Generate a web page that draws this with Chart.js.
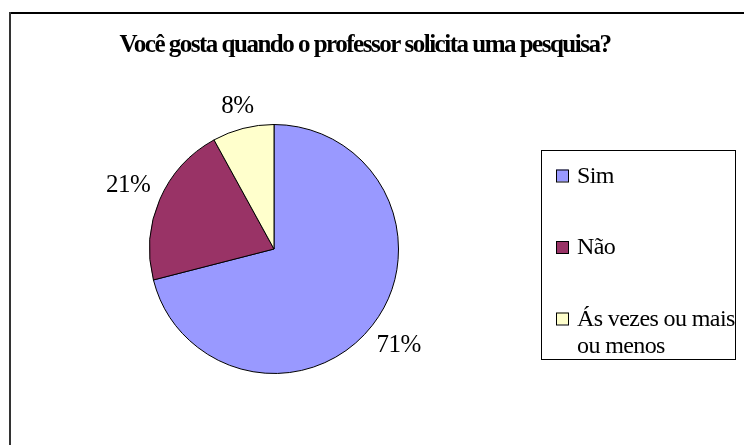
<!DOCTYPE html>
<html><head><meta charset="utf-8">
<script src="https://cdn.jsdelivr.net/npm/chart.js@4"></script>
<style>html,body{margin:0;padding:0;background:#fff}canvas{display:block}</style>
</head><body>
<canvas id="c" width="744" height="445"></canvas>
<script>
const titleText = 'Você gosta quando o professor solicita uma pesquisa?';
const categories = ['Sim', 'Não', 'Ás vezes ou mais ou menos'];
const values = [71, 21, 8];
const colors = ['#9999FF', '#993366', '#FFFFCC'];

const SERIF = '"Liberation Serif", "Times New Roman", serif';

function wrap(ctx, text, maxW) {
  const words = text.split(' ');
  const lines = [];
  let cur = '';
  words.forEach(w => {
    const t = cur ? cur + ' ' + w : w;
    if (ctx.measureText(t).width > maxW && cur) { lines.push(cur); cur = w; }
    else cur = t;
  });
  if (cur) lines.push(cur);
  return lines;
}
function spacing(ctx, v) { if ('letterSpacing' in ctx) ctx.letterSpacing = v; }

const decor = {
  id: 'decor',
  beforeDraw(chart) {
    const ctx = chart.ctx;
    ctx.save();
    ctx.fillStyle = '#fff';
    ctx.fillRect(0, 0, chart.width, chart.height);
    ctx.fillStyle = '#000';
    ctx.fillRect(9, 12, chart.width - 9, 2);
    ctx.fillStyle = '#333';
    ctx.fillRect(9, 12, 2, chart.height - 12);
    ctx.restore();
  },
  afterDraw(chart) {
    const ctx = chart.ctx;
    ctx.save();
    // title
    ctx.font = 'bold 25px ' + SERIF;
    spacing(ctx, '-1.5px');
    ctx.fillStyle = '#000';
    ctx.textAlign = 'center';
    ctx.textBaseline = 'alphabetic';
    ctx.fillText(titleText, 365, 52);

    // percentage labels
    const meta = chart.getDatasetMeta(0);
    const total = values.reduce((a, b) => a + b, 0);
    ctx.font = '25px ' + SERIF;
    spacing(ctx, '-0.5px');
    ctx.textBaseline = 'middle';
    meta.data.forEach((arc, i) => {
      const p = arc.getProps(['x', 'y', 'startAngle', 'endAngle', 'outerRadius'], true);
      const mid = (p.startAngle + p.endAngle) / 2;
      const txt = Math.round(values[i] / total * 100) + '%';
      const w = ctx.measureText(txt).width;
      const h = 16;
      const c = Math.cos(mid), s = Math.sin(mid);
      const d = p.outerRadius + 11 + Math.abs(c) * w / 2 + Math.abs(s) * h / 2;
      ctx.fillText(txt, p.x + c * d, p.y + s * d);
    });

    // legend
    spacing(ctx, '0px');
    ctx.strokeStyle = '#000';
    ctx.lineWidth = 1;
    ctx.strokeRect(541.5, 150.5, 194, 209);
    ctx.font = '24px ' + SERIF;
    spacing(ctx, '-0.6px');
    ctx.textAlign = 'left';
    ctx.textBaseline = 'alphabetic';
    const firstY = 175.5, step = 71.5;
    categories.forEach((lab, i) => {
      const cy = firstY + i * step;
      ctx.fillStyle = colors[i];
      ctx.fillRect(556, cy - 6, 12, 12);
      ctx.strokeStyle = '#000';
      ctx.strokeRect(556.5, cy - 5.5, 12, 12);
      ctx.fillStyle = '#000';
      const lines = wrap(ctx, lab, 162);
      lines.forEach((ln, j) => ctx.fillText(ln, 577, cy + 7 + j * 27));
    });
    ctx.restore();
  }
};

new Chart(document.getElementById('c'), {
  type: 'pie',
  data: {
    labels: categories,
    datasets: [{
      data: values,
      backgroundColor: colors,
      borderColor: '#000',
      borderWidth: 1
    }]
  },
  options: {
    responsive: false,
    animation: false,
    devicePixelRatio: 1,
    layout: { padding: { left: 149, right: 345, top: 124, bottom: 71 } },
    plugins: {
      legend: { display: false },
      title: { display: false },
      tooltip: { enabled: false }
    }
  },
  plugins: [decor]
});
</script>
</body></html>
